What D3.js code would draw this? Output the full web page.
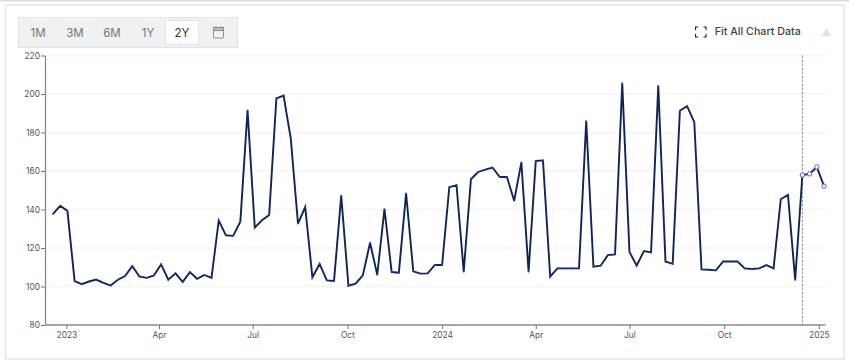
<!DOCTYPE html>
<html><head><meta charset="utf-8">
<script src="https://cdn.jsdelivr.net/npm/d3@7/dist/d3.min.js"></script>
<style>
html,body{margin:0;padding:0;background:#fff}
svg{display:block}
text{font-family:Inter,"Noto Sans",sans-serif}
</style></head><body>
<svg id="c" width="849" height="364"></svg>
<script>
const startDate = "2022-12-19";
const values = [137.7,141.9,139.3,102.8,101.2,102.6,103.6,101.9,100.5,103.5,105.4,110.6,105.2,104.5,105.7,111.5,103.5,106.8,102.4,107.5,104,106,104.5,134.3,126.6,126.3,133.7,191.5,130.6,134.4,137.2,197.7,199.2,176.8,132.7,141.3,104.8,111.7,103.2,102.9,147.2,100.4,101.5,105.8,122.7,106.1,140.2,107.5,107.2,148.4,107.9,106.7,106.8,111.2,111.2,151.6,152.6,107.7,155.7,159.5,160.7,161.8,156.9,156.9,144.5,164.5,107.7,165.2,165.5,105.1,109.4,109.4,109.4,109.4,185.9,110.3,110.8,116.3,116.7,205.6,118,110.8,118.4,117.7,204.2,113,111.8,191.3,193.7,185.4,108.9,108.7,108.4,113,113,113,109.4,109.1,109.4,111.1,109.4,145.3,147.6,103.4,157.9,158.5,162.1,152.1];
const forecastStart = 104;
const yTicks = [80,100,120,140,160,180,200,220];
const xTickDates = ["2023-01-01","2023-04-01","2023-07-01","2023-10-01","2024-01-01","2024-04-01","2024-07-01","2024-10-01","2025-01-01"];
const xTickLabels = ["2023","Apr","Jul","Oct","2024","Apr","Jul","Oct","2025"];
const ranges = ["1M","3M","6M","1Y","2Y"];
const activeRange = "2Y";
const fitLabel = "Fit All Chart Data";

const svg = d3.select("#c");
const parse = d3.utcParse("%Y-%m-%d");
const t0 = parse(startDate);
const dates = values.map((_, i) => d3.utcDay.offset(t0, i * 7));
const data = values.map((v, i) => ({d: dates[i], v, i}));

const L = 45, R = 824.5, T = 55.5, B = 325;
const x = d3.scaleUtc().domain([dates[0], dates[dates.length - 1]]).range([53, 824]);
const y = d3.scaleLinear().domain([80, 220]).range([B, T]);

// frames
svg.append("rect").attr("x",0).attr("y",0).attr("width",849).attr("height",1.5).attr("fill","#dcdcdc");
svg.append("rect").attr("x",5.5).attr("y",5).attr("width",838.5).attr("height",354)
  .attr("fill","#fff").attr("stroke","#e6e6e6").attr("stroke-width",1.5);

// toolbar
const tb = svg.append("g");
tb.append("rect").attr("x",18.5).attr("y",17.5).attr("width",219).attr("height",30)
  .attr("fill","#f0f1f3").attr("stroke","#e2e4e8");
const btnX = d3.scaleOrdinal().domain(ranges).range([38,75,112,148,182]);
tb.append("rect").attr("x",165.5).attr("y",20.5).attr("width",33).attr("height",24)
  .attr("fill","#fff").attr("stroke","#e2e4e8");
tb.selectAll("text.r").data(ranges).join("text").attr("class","r")
  .attr("x",d=>btnX(d)).attr("y",36.5).attr("text-anchor","middle")
  .attr("font-size",11.5).attr("fill",d=>d===activeRange?"#333":"#72767d").text(d=>d);
const cal = tb.append("g").attr("fill","none").attr("stroke","#8a8e95").attr("stroke-width",1);
cal.append("rect").attr("x",213.5).attr("y",27.5).attr("width",10).attr("height",10.5).attr("rx",1);
cal.append("rect").attr("x",213.5).attr("y",27.5).attr("width",10).attr("height",3).attr("fill","#b9bcc2");
cal.append("path").attr("d","M216 26V28M221 26V28");

// fit icon + label
svg.append("path").attr("fill","none").attr("stroke","#222").attr("stroke-width",1.1)
  .attr("d","M695.5 30V27H698 M706 30V27H703.5 M695.5 34V37H698 M706 34V37H703.5");
svg.append("text").attr("x",714.8).attr("y",35.2).attr("font-size",10.7).attr("font-weight",500)
  .attr("fill","#3c4048").text(fitLabel);
svg.append("path").attr("fill","#dfe1e4").attr("d","M822 36L826.5 28L831 36Z");

// grid
svg.append("g").selectAll("line").data(yTicks.slice(1)).join("line")
  .attr("x1",L).attr("x2",R+1).attr("y1",d=>y(d)).attr("y2",d=>y(d))
  .attr("stroke","#f5f5f6").attr("stroke-width",1.3);

// axes
const axisStyle = g => {
  g.selectAll("text").attr("font-size",8.4).attr("fill","#555")
    .style("font-family",'Inter,"Noto Sans",sans-serif');
  g.selectAll("line").attr("stroke","#777");
  g.select(".domain").attr("stroke","#8a8a8a").attr("stroke-width",1.3);
};
const yAxis = d3.axisLeft(y).tickValues(yTicks).tickSize(4).tickSizeOuter(0).tickPadding(1);
svg.append("g").attr("transform",`translate(${L},0)`).call(yAxis).call(axisStyle);
const xVals = xTickDates.map(parse);
const xAxis = d3.axisBottom(x).tickValues(xVals).tickSize(4).tickSizeOuter(0).tickPadding(3.5)
  .tickFormat((d,i)=>xTickLabels[i]);
const xg = svg.append("g").attr("transform",`translate(0,${B})`).call(xAxis).call(axisStyle);
xg.select(".domain").attr("d",`M${L},0H${R+1}`);

// forecast divider
svg.append("line").attr("x1",x(dates[forecastStart])).attr("x2",x(dates[forecastStart]))
  .attr("y1",T).attr("y2",B).attr("stroke","#8b8b8b").attr("stroke-width",1).attr("stroke-dasharray","2.5,1.5");

// line
const line = d3.line().x(d=>x(d.d)).y(d=>y(d.v));
svg.append("path").datum(data).attr("d",line).attr("fill","none")
  .attr("stroke","#0f2459").attr("stroke-width",1.9).attr("stroke-linejoin","miter");
svg.append("g").selectAll("circle").data(data.slice(0,forecastStart)).join("circle")
  .attr("cx",d=>x(d.d)).attr("cy",d=>y(d.v)).attr("r",0.9).attr("fill","#2f46a8");
svg.append("g").selectAll("circle").data(data.slice(forecastStart)).join("circle")
  .attr("cx",d=>x(d.d)).attr("cy",d=>y(d.v)).attr("r",2.2)
  .attr("fill","#fff").attr("stroke","#5a5ae0").attr("stroke-width",1);
</script>
</body></html>
